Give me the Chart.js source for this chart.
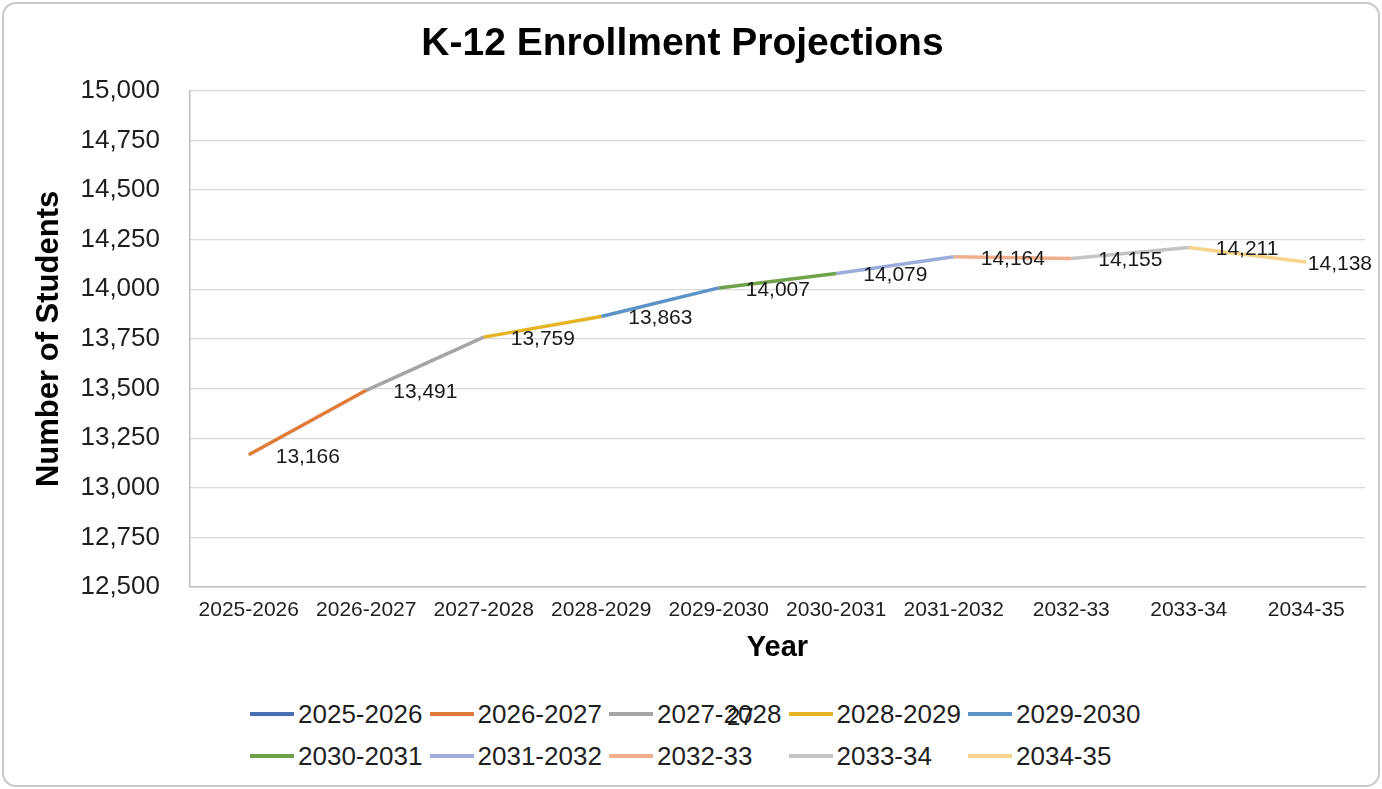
<!DOCTYPE html>
<html>
<head>
<meta charset="utf-8">
<title>K-12 Enrollment Projections</title>
<script src="https://cdn.jsdelivr.net/npm/chart.js@4.4.1/dist/chart.umd.min.js"></script>
<style>
    html, body { margin: 0; padding: 0; background: #ffffff; }
    #wrap { position: relative; width: 1382px; height: 789px; overflow: hidden; font-family: "Liberation Sans", Arial, sans-serif; }
    #frame { position: absolute; left: 2px; top: 2px; right: 2px; bottom: 2px; border: 2px solid #c9c9c9; border-radius: 14px; pointer-events: none; }
    #enrollChart { position: absolute; left: 0; top: 0; }
    #legend { position: absolute; left: 250px; top: 693px; display: grid; grid-template-columns: repeat(5, 179.5px); }
    .leg-item { display: flex; align-items: center; height: 42px; font-size: 26px; color: #1f1f1f; white-space: nowrap; }
    .leg-swatch { display: inline-block; width: 44px; height: 4px; margin-right: 4px; }
    #pageNo { position: absolute; left: 727px; top: 703px; font-size: 24px; color: #1a1a1a; }
</style>
</head>
<body>
<div id="wrap">
    <canvas id="enrollChart" width="1382" height="690"></canvas>
    <div id="legend"></div>
    <div id="pageNo">27</div>
    <div id="frame"></div>
</div>

<script>
// chart data
const years = ['2025-2026', '2026-2027', '2027-2028', '2028-2029', '2029-2030',
               '2030-2031', '2031-2032', '2032-33', '2033-34', '2034-35'];
const students = [13166, 13491, 13759, 13863, 14007, 14079, 14164, 14155, 14211, 14138];
const yearColors = ['#4A6FB5', '#E07B39', '#A5A5A5', '#E6B422', '#5B93C9',
                    '#6FA04A', '#9DADDB', '#F0AE8D', '#C4C4C4', '#F8D48A'];
const yMin = 12500;
const yMax = 15000;
const yStep = 250;

// each year is its own series: the segment running into that year's point
const datasets = years.map((year, k) => ({
    label: year,
    data: students.map((v, i) => (i === k || i === k - 1) ? v : null),
    borderColor: yearColors[k],
    backgroundColor: yearColors[k],
    borderWidth: 3.5,
    pointRadius: 0,
    pointHoverRadius: 0,
    tension: 0,
    spanGaps: false
}));

// value labels to the right of each point
const valueLabels = {
    id: 'valueLabels',
    afterDatasetsDraw(chart) {
        const ctx = chart.ctx;
        const xs = chart.scales.x;
        const ys = chart.scales.y;
        ctx.save();
        ctx.font = '21px "Liberation Sans", Arial, sans-serif';
        ctx.fillStyle = '#1a1a1a';
        ctx.textAlign = 'left';
        ctx.textBaseline = 'middle';
        students.forEach((v, i) => {
            const text = v.toLocaleString('en-US');
            const w = ctx.measureText(text).width;
            let x = xs.getPixelForValue(i) + 27;
            if (x + w > chart.width - 10) x = chart.width - 10 - w;
            ctx.fillText(text, x, ys.getPixelForValue(v) + 2);
        });
        ctx.restore();
    }
};

const ctx = document.getElementById('enrollChart').getContext('2d');
new Chart(ctx, {
    type: 'line',
    data: { labels: years, datasets: datasets },
    options: {
        responsive: false,
        animation: false,
        layout: { padding: { left: 0, right: 17, top: 0, bottom: 0 } },
        plugins: {
            legend: { display: false },
            tooltip: { enabled: false },
            title: {
                display: true,
                text: 'K-12 Enrollment Projections',
                color: '#000000',
                font: { family: '"Liberation Sans", Arial, sans-serif', size: 39, weight: 'bold' },
                padding: { top: 21, bottom: 23 }
            }
        },
        scales: {
            x: {
                offset: true,
                grid: { display: false, drawTicks: false },
                border: { display: true, color: '#bfbfbf', width: 1.5 },
                ticks: {
                    color: '#1f1f1f',
                    padding: 11,
                    maxRotation: 0,
                    autoSkip: false,
                    font: { family: '"Liberation Sans", Arial, sans-serif', size: 21 }
                },
                title: {
                    display: true,
                    text: 'Year',
                    color: '#000000',
                    font: { family: '"Liberation Sans", Arial, sans-serif', size: 29, weight: 'bold' },
                    padding: { top: 0, bottom: 25 }
                },
                afterFit: (scale) => { scale.height = 103; }
            },
            y: {
                min: yMin,
                max: yMax,
                grid: { color: '#d9d9d9', lineWidth: 1.2, drawTicks: false },
                border: { display: true, color: '#bfbfbf', width: 1.5 },
                ticks: {
                    stepSize: yStep,
                    color: '#1f1f1f',
                    padding: 30,
                    font: { family: '"Liberation Sans", Arial, sans-serif', size: 26 },
                    callback: (v) => Number(v).toLocaleString('en-US')
                },
                title: {
                    display: true,
                    text: 'Number of Students',
                    color: '#000000',
                    font: { family: '"Liberation Sans", Arial, sans-serif', size: 31, weight: 'bold' },
                    padding: { top: 31, bottom: 0 }
                },
                afterFit: (scale) => { scale.width = 190; }
            }
        }
    },
    plugins: [valueLabels]
});

// legend laid out in a five-column grid like the original
const legendBox = document.getElementById('legend');
years.forEach((year, k) => {
    const item = document.createElement('div');
    item.className = 'leg-item';
    item.innerHTML = `<span class="leg-swatch" style="background:${yearColors[k]}"></span>${year}`;
    legendBox.appendChild(item);
});
</script>
</body>
</html>
